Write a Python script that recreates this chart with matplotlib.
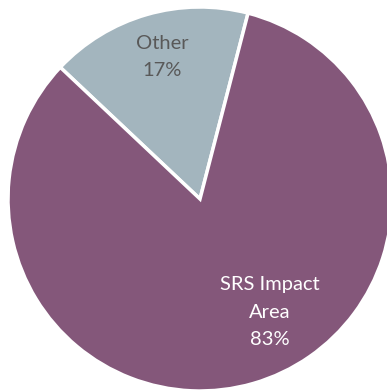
import matplotlib
matplotlib.use("Agg")
import matplotlib.pyplot as plt
import numpy as np

categories = ["Other", "SRS Impact\nArea"]
values = [17, 83]
colors = ["#A3B5BE", "#84577A"]
text_colors = ["#595959", "#FFFFFF"]

W, H = 387, 390
fig = plt.figure(figsize=(W / 100, H / 100), dpi=100)
ax = fig.add_axes([0, 0, 1, 1])
R = 192.0
cx, cy = 200.0, 199.0

wedges, _ = ax.pie(values, colors=colors, startangle=75.5, counterclock=True,
                   radius=1.0, center=(0, 0), frame=True,
                   wedgeprops=dict(edgecolor="white", linewidth=2.5))
ax.set_xlim(-cx / R, (W - cx) / R)
ax.set_ylim(-(H - cy) / R, cy / R)
ax.set_aspect("auto")
ax.axis("off")

# label positions (pixel coords converted to data)
label_px = [(162, 57), (270, 312)]
for cat, v, (px, py), tc in zip(categories, values, label_px, text_colors):
    ax.text((px - cx) / R, (cy - py) / R, f"{cat}\n{v}%", ha="center", va="center",
            color=tc, fontsize=14.5, family="Lato", linespacing=1.75)

fig.savefig("out.png", dpi=100)
